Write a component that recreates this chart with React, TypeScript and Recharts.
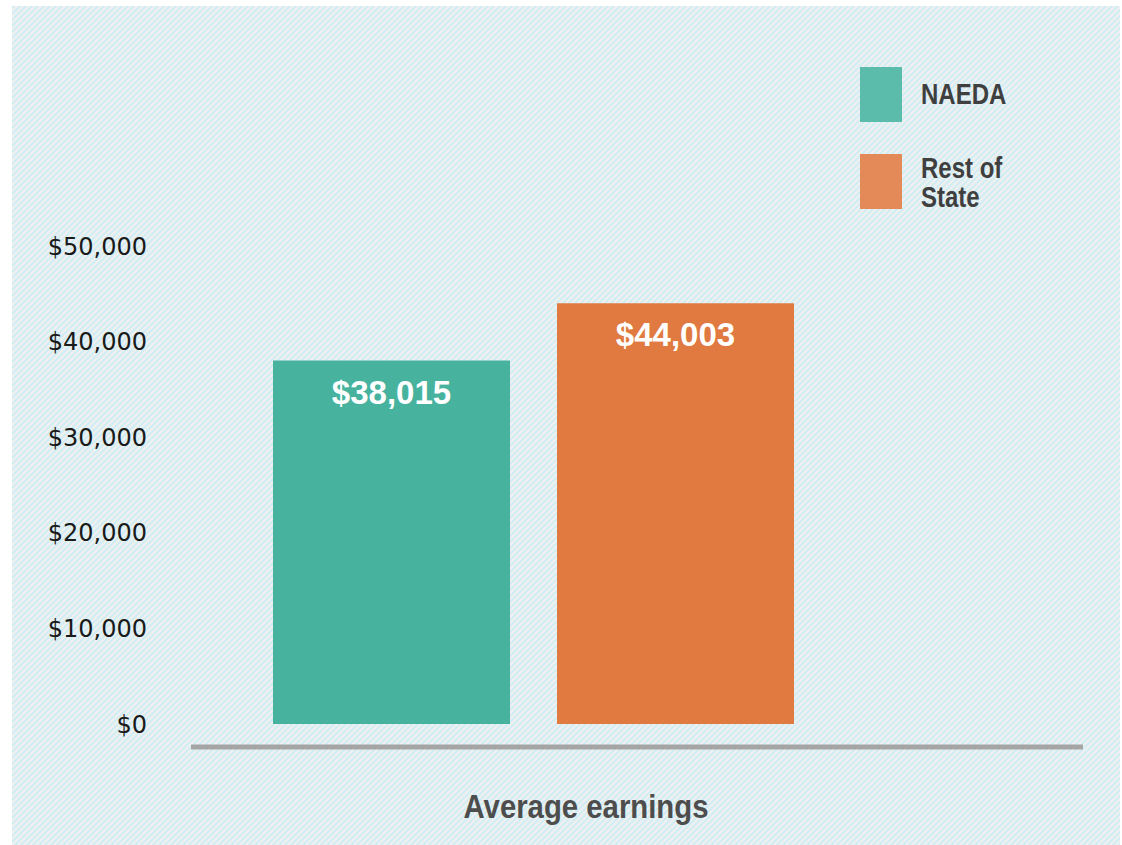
import { Bar, BarChart, LabelList, Legend, XAxis, YAxis } from 'recharts';

const categories = ['Average earnings'];
const naedaValues = [38015];
const restOfStateValues = [44003];
const yTicks = [0, 10000, 20000, 30000, 40000, 50000];

const data = categories.map((name, i) => ({
  name,
  naeda: naedaValues[i],
  rest: restOfStateValues[i],
}));

const BAR_COLORS = { naeda: '#47b39f', rest: '#e07a40' };
const LEGEND_COLORS: Record<string, string> = { naeda: '#5cbcab', rest: '#e48a59' };
const SANS = "'Liberation Sans', Arial, sans-serif";

const STRIPES =
  "url(\"data:image/svg+xml;utf8,<svg xmlns='http://www.w3.org/2000/svg' width='6' height='6' shape-rendering='crispEdges'>" +
  "<rect width='6' height='6' fill='%23eef0f0'/>" +
  "<polygon points='0,0 3,0 0,3' fill='%23d2eef4'/>" +
  "<polygon points='6,0 6,3 3,6 0,6' fill='%23d2eef4'/></svg>\")";

const LEGEND_HEIGHT = 150;

const money = (v: number) => `$${v.toLocaleString('en-US')}`;

function BarValue(props: any) {
  const { x, y, width, value } = props;
  return (
    <text
      x={x + width / 2}
      y={y + 43}
      textAnchor="middle"
      fill="#ffffff"
      fontFamily={SANS}
      fontWeight="bold"
      fontSize={33}
    >
      {money(value)}
    </text>
  );
}

function CategoryTick(props: any) {
  const { x, y, payload } = props;
  return (
    <text
      x={x + 53}
      y={y + 63}
      textAnchor="middle"
      fill="#4d4d4d"
      fontFamily={SANS}
      fontWeight="bold"
      fontSize={33}
      textLength={245}
      lengthAdjust="spacingAndGlyphs"
    >
      {payload.value}
    </text>
  );
}

function LegendBox({ payload }: any) {
  return (
    <div style={{ position: 'relative', width: 220, height: LEGEND_HEIGHT }}>
      {(payload ?? []).map((entry: any, i: number) => {
        const lines = String(entry.value).split('\n');
        return (
          <div key={entry.dataKey} style={{ position: 'absolute', left: 0, top: i * 87, width: 220 }}>
            <div
              style={{
                position: 'absolute',
                left: 0,
                top: 0,
                width: 42,
                height: 55,
                background: LEGEND_COLORS[entry.dataKey],
              }}
            />
            <div
              style={{
                position: 'absolute',
                left: 61,
                top: lines.length > 1 ? -1 : 12,
                fontFamily: SANS,
                fontWeight: 'bold',
                fontSize: 30,
                lineHeight: '29px',
                color: '#3f3f3f',
                whiteSpace: 'pre',
                transform: 'scaleX(0.8)',
                transformOrigin: 'left top',
              }}
            >
              {lines.join('\n')}
            </div>
          </div>
        );
      })}
    </div>
  );
}

export default function App() {
  return (
    <div style={{ position: 'absolute', left: 0, top: 0, width: 1122, height: 845, background: '#fff' }}>
      <div
        style={{
          position: 'absolute',
          left: 12,
          top: 6,
          width: 1108,
          height: 839,
          backgroundImage: STRIPES,
        }}
      />
      <div style={{ position: 'absolute', left: 0, top: 0 }}>
        <BarChart
          width={1122}
          height={845}
          data={data}
          margin={{ top: 246 - LEGEND_HEIGHT, right: 39, bottom: 38, left: 0 }}
          barSize={237}
          barGap={47}
        >
          <XAxis
            dataKey="name"
            padding={{ left: 0, right: 208 }}
            axisLine={{ stroke: '#a5a5a5', strokeWidth: 5 }}
            tickLine={false}
            height={60}
            tick={<CategoryTick />}
          />
          <YAxis
            domain={[-2400, 50000]}
            ticks={yTicks}
            tickFormatter={money}
            axisLine={false}
            tickLine={false}
            tickMargin={38}
            width={191}
            allowDataOverflow
            tick={{ fill: '#1a1a1a', fontSize: 24, fontFamily: "'DejaVu Sans', sans-serif" }}
          />
          <Legend
            verticalAlign="top"
            content={<LegendBox />}
            wrapperStyle={{ left: 860, top: 67, width: 220, height: LEGEND_HEIGHT }}
          />
          <Bar dataKey="naeda" name="NAEDA" fill={BAR_COLORS.naeda} isAnimationActive={false}>
            <LabelList dataKey="naeda" content={<BarValue />} />
          </Bar>
          <Bar dataKey="rest" name={'Rest of\nState'} fill={BAR_COLORS.rest} isAnimationActive={false}>
            <LabelList dataKey="rest" content={<BarValue />} />
          </Bar>
        </BarChart>
      </div>
    </div>
  );
}
